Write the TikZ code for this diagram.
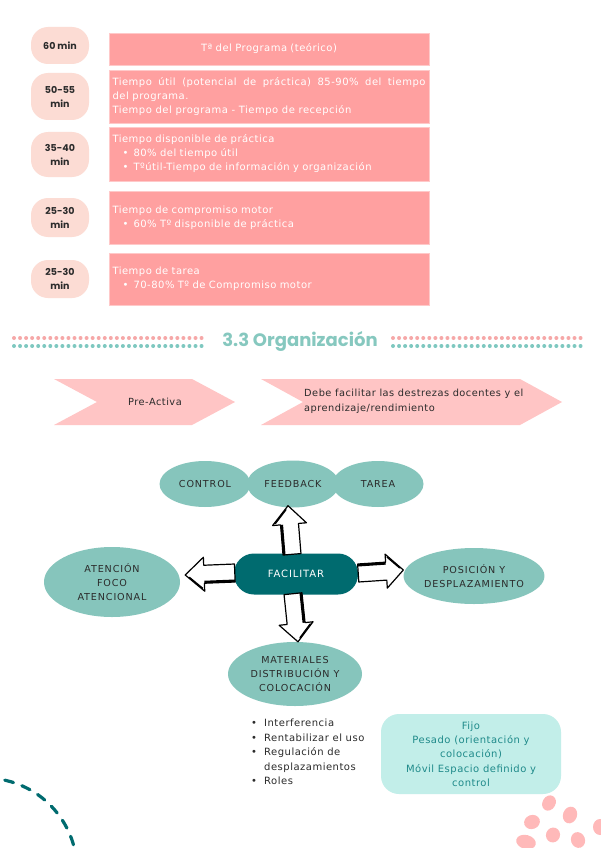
\documentclass[tikz,border=0pt]{standalone}
\usepackage{fontspec}
\setmainfont{DejaVu Sans}
\newfontfamily\txtfont[LetterSpace=5]{DejaVu Sans}
\newfontfamily\capfont[LetterSpace=9]{DejaVu Sans}
\newfontfamily\headfont{Poppins}
\usetikzlibrary{calc,shapes.geometric}
\definecolor{rectpink}{HTML}{FFA0A0}
\definecolor{rectedge}{HTML}{FFC9C9}
\definecolor{pillpeach}{HTML}{FCDCD4}
\definecolor{chevpink}{HTML}{FFC5C5}
\definecolor{tealL}{HTML}{86C5BC}
\definecolor{tealD}{HTML}{006B6F}
\definecolor{aqua}{HTML}{C2EEE9}
\definecolor{dotpink}{HTML}{F6A8A8}
\definecolor{dotteal}{HTML}{7EC8C0}
\definecolor{headteal}{HTML}{86C8BF}
\definecolor{blobpink}{HTML}{FFB9B9}
\definecolor{fijotext}{HTML}{1F8A8A}
\definecolor{darktext}{HTML}{2B2B2B}
\newcommand\tbul{\hspace*{10pt}\makebox[11pt][l]{•}}
\newcommand\lbul{\makebox[13pt][l]{•}}
\newcommand\skarrow[2]{%
 \filldraw[skarr] ($(#1)!9pt!90:(#2)$) -- ($(#1)!0.62!(#2)!9pt!90:(#2)$) -- ($(#1)!0.62!(#2)!17pt!90:(#2)$) -- (#2) -- ($(#1)!0.62!(#2)!17pt!-90:(#2)$) -- ($(#1)!0.62!(#2)!9pt!-90:(#2)$) -- ($(#1)!9pt!-90:(#2)$) -- cycle;
 \fill[black] ($(#1)!9pt!90:(#2)$) -- ($(#1)!0.62!(#2)!9pt!90:(#2)$) -- ($(#1)!0.62!(#2)!6.5pt!90:(#2)$) -- ($(#1)!6.5pt!90:(#2)$) -- cycle;
 \draw[black, line width=1.5pt, line cap=round] ($(#1)!0.66!(#2)!14pt!90:(#2)$) -- ($(#1)!0.92!(#2)!2.5pt!90:(#2)$);
}
\tikzset{
 pill/.style={rectangle, rounded corners=17pt, fill=pillpeach, minimum width=58pt, inner sep=0pt, align=center, font=\headfont\bfseries\fontsize{9.5}{14}\selectfont, text=darktext},
 timebox/.style={rectangle, fill=rectpink, draw=rectedge, line width=0.8pt, minimum width=320pt, inner xsep=3.5pt, inner ysep=0pt, text width=313pt, font=\txtfont\fontsize{10}{14}\selectfont, text=white},
 chev/.style={fill=chevpink},
 chevtext/.style={font=\txtfont\fontsize{9.8}{15}\selectfont, text=darktext, inner sep=0pt, align=left},
 bubble/.style={ellipse, fill=tealL, inner sep=0pt, align=center, font=\capfont\fontsize{9.6}{14}\selectfont, text=darktext},
 core/.style={rectangle, rounded corners=20pt, fill=tealD, minimum width=124pt, minimum height=41pt, font=\capfont\fontsize{10}{14}\selectfont, text=white},
 skarr/.style={fill=white, draw=black, line width=1.2pt, line join=round},
 listtext/.style={font=\txtfont\fontsize{10}{14.5}\selectfont, text=darktext, align=left, inner sep=0pt},
 fijobox/.style={rectangle, rounded corners=18pt, fill=aqua, minimum width=180pt, minimum height=80pt, align=center, font=\txtfont\fontsize{10}{14.3}\selectfont, text=fijotext, inner sep=0pt},
 dotp/.style={fill=dotpink}, dott/.style={fill=dotteal},
 blob/.style={fill=blobpink},
 heading/.style={font=\headfont\bfseries\fontsize{18}{20}\selectfont, text=headteal, inner sep=0pt},
 dasharc/.style={draw=tealD, line width=3.2pt, line cap=round, dash pattern=on 9pt off 9pt}
}
\begin{document}
\begin{tikzpicture}[x=1pt,y=-1pt]
\fill[white] (0,0) rectangle (600,848);
\useasboundingbox (0,0) rectangle (600,848);
% time pills
\node[pill, minimum height=37pt] (p1) at (60,45.5) {60 min};
\node[pill, minimum height=47pt] (p2) at (60,96.5) {50-55\\min};
\node[pill, minimum height=45pt] (p3) at (60,154.5) {35-40\\min};
\node[pill, minimum height=39pt] (p4) at (60,217.5) {25-30\\min};
\node[pill, minimum height=38pt] (p5) at (60,279) {25-30\\min};
% time boxes
\node[timebox, minimum height=32pt, align=center] (r1) at (269,49) {Tª del Programa (teórico)};
\node[timebox, minimum height=53pt, align=justify] (r2) at (269,96.5) {Tiempo útil (potencial de práctica) 85-90\% del tiempo\linebreak del programa.\\Tiempo del programa - Tiempo de recepción};
\node[timebox, minimum height=54pt, align=left] (r3) at (269,154) {Tiempo disponible de práctica\\\tbul 80\% del tiempo útil\\\tbul Tºútil-Tiempo de información y organización};
\node[timebox, minimum height=53pt, align=left] (r4) at (269,217.5) {Tiempo de compromiso motor\\\tbul 60\% Tº disponible de práctica};
\node[timebox, minimum height=52pt, align=left] (r5) at (269,279) {Tiempo de tarea\\\tbul 70-80\% Tº de Compromiso motor};
% heading
\foreach \i in {0,...,31} {
 \fill[dotp] (14+6.05*\i,338) circle (2pt);
 \fill[dott] (14+6.05*\i,346) circle (2pt);
 \fill[dotp] (393+6.05*\i,338) circle (2pt);
 \fill[dott] (393+6.05*\i,346) circle (2pt);
}
\node[heading] (head) at (300,341) {3.3 Organización};
% chevrons
\fill[chev] (54,379) -- (192,379) -- (235,402) -- (192,425) -- (54,425) -- (97,402) -- cycle;
\fill[chev] (261,379) -- (520,379) -- (562,402) -- (520,425) -- (261,425) -- (303,402) -- cycle;
\node[chevtext] (pre) at (155,402) {Pre-Activa};
\node[chevtext, anchor=west] (debe) at (304,401) {Debe facilitar las destrezas docentes y el\\aprendizaje/rendimiento};
% graph nodes
\node[bubble, minimum width=91pt, minimum height=46pt] (ctrl) at (205,484) {CONTROL};
\node[bubble, minimum width=91pt, minimum height=46pt] (tarea) at (378,484) {TAREA};
\node[bubble, minimum width=92pt, minimum height=47pt] (feed) at (293,484) {FEEDBACK};
\node[core] (fac) at (296,574) {FACILITAR};
\node[bubble, minimum width=136pt, minimum height=70pt] (aten) at (112,582) {ATENCIÓN\\FOCO\\ATENCIONAL};
\node[bubble, minimum width=134pt, minimum height=56pt] (pos) at (474,576) {POSICIÓN Y\\DESPLAZAMIENTO};
\node[bubble, minimum width=134pt, minimum height=64pt] (mat) at (295,674) {MATERIALES\\DISTRIBUCIÓN Y\\COLOCACIÓN};
% arrow end points
\coordinate (us) at ($(fac.north)+(-4,1)$);
\coordinate (ue) at ($(feed.south)+(-5,-2)$);
\coordinate (ls) at ($(fac.west)+(1,-1)$);
\coordinate (le) at ($(aten.east)+(5,-7)$);
\coordinate (rs) at ($(fac.east)+(0,-1)$);
\coordinate (re) at ($(pos.west)+(0,-6)$);
\coordinate (ds) at ($(fac.south)+(-3,-1)$);
\coordinate (de) at ($(mat.north)+(3,0)$);
\skarrow{us}{ue}
\skarrow{ls}{le}
\skarrow{rs}{re}
\skarrow{ds}{de}
% list
\node[listtext, anchor=north west] (list) at (251,719) {\lbul Interferencia\\\lbul Rentabilizar el uso\\\lbul Regulación de\\\hspace*{13pt}desplazamientos\\\lbul Roles};
\node[fijobox] (fijo) at (471,754) {Fijo\\Pesado (orientación y\\colocación)\\Móvil Espacio definido y\\control};
% decorations
\draw[dasharc] ([shift={(-15,870)}] -100:92) arc[start angle=-100, end angle=0, radius=92];
\fill[blob, rotate around={-30:(549,803)}] (549,803) ellipse (6.5pt and 8pt);
\fill[blob, rotate around={-20:(570,815)}] (570,815) ellipse (7pt and 8.5pt);
\fill[blob, rotate around={20:(532,822)}] (532,822) ellipse (8pt and 7pt);
\fill[blob, rotate around={-20:(553,835)}] (553,835) ellipse (7pt and 7.5pt);
\fill[blob] (600,827) ellipse (7pt and 8pt);
\fill[blob, rotate around={-15:(526,842)}] (526,842) ellipse (10pt and 7pt);
\fill[blob, rotate around={20:(578,840)}] (578,840) ellipse (7pt and 8pt);
\end{tikzpicture}
\end{document}
